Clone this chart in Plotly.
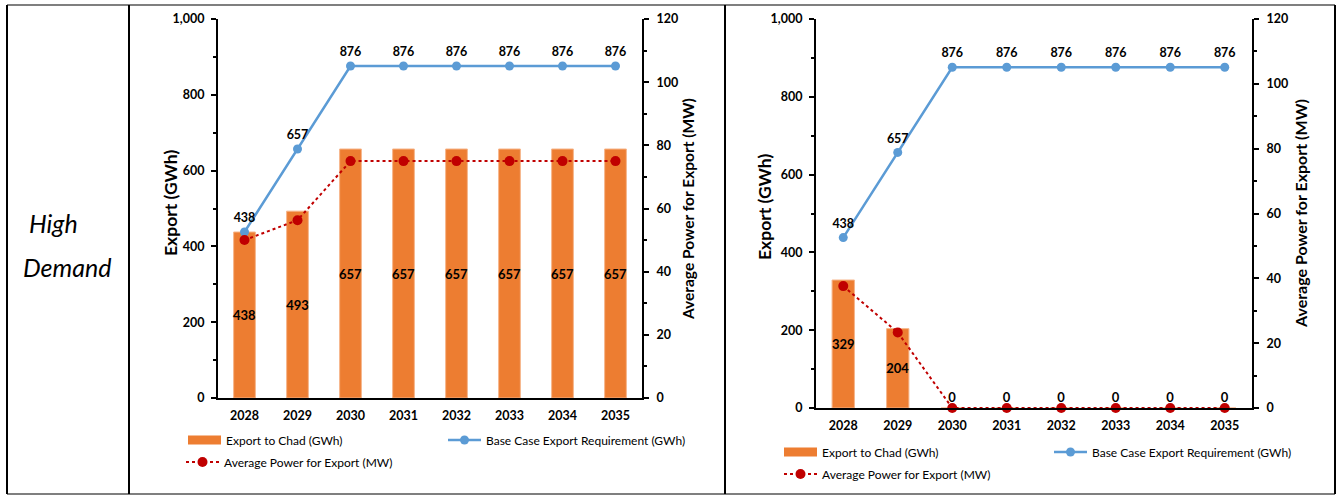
import plotly.graph_objects as go

# ---- data -------------------------------------------------------------
years = ["2028", "2029", "2030", "2031", "2032", "2033", "2034", "2035"]

left_export = [438, 493, 657, 657, 657, 657, 657, 657]
left_requirement = [438, 657, 876, 876, 876, 876, 876, 876]
left_power = [50.0, 56.3, 75.0, 75.0, 75.0, 75.0, 75.0, 75.0]

right_export = [329, 204, 0, 0, 0, 0, 0, 0]
right_requirement = [438, 657, 876, 876, 876, 876, 876, 876]
right_power = [37.6, 23.3, 0, 0, 0, 0, 0, 0]

row_label = ["High", "Demand"]
bar_name = "Export to Chad (GWh)"
req_name = "Base Case Export Requirement (GWh)"
power_name = "Average Power for Export (MW)"
left_title = "Export (GWh)"

# ---- styling ----------------------------------------------------------
W, H = 1341, 495
FONT = "Lato"
ORANGE = "#ED7D31"
ORANGE_EDGE = "#F6B58A"
BLUE = "#5B9BD5"
RED = "#C00000"


def px(x):
    return x / W


def py(y):
    return 1 - y / H


panels = [
    dict(export=left_export, req=left_requirement, power=left_power,
         xa="x", yl="y", yr="y2", x0=218, x1=642, ytop=19, ybot=398,
         legends=("legend", "legend2", "legend3"),
         leg_pos=[(190, 440), (450, 440), (188, 462)],
         ltitle=(170, 203, 17.5), rtitle=(688, 209, 15.5)),
    dict(export=right_export, req=right_requirement, power=right_power,
         xa="x2", yl="y3", yr="y4", x0=816, x1=1252, ytop=19, ybot=408,
         legends=("legend4", "legend5", "legend6"),
         leg_pos=[(786, 452), (1056, 452), (786, 474)],
         ltitle=(764, 207, 17.5), rtitle=(1300, 214, 16)),
]

fig = go.Figure()
layout = dict(
    width=W, height=H, margin=dict(l=0, r=0, t=0, b=0, autoexpand=False),
    paper_bgcolor="white", plot_bgcolor="rgba(0,0,0,0)",
    font=dict(family=FONT, color="black"),
    barmode="overlay", showlegend=True,
)
annotations = []
shapes = []

for p in panels:
    # bars: value label centred inside, zero bars get their label above
    positions = ["inside" if v > 0 else "outside" for v in p["export"]]
    fig.add_trace(go.Bar(
        x=years, y=p["export"], xaxis=p["xa"], yaxis=p["yl"],
        width=0.41, marker=dict(color=ORANGE, line=dict(color=ORANGE_EDGE, width=1)),
        text=[str(v) for v in p["export"]], textposition=positions,
        insidetextanchor="middle", textangle=0, constraintext="none",
        textfont=dict(family=FONT, size=13, color="black", weight="bold"),
        cliponaxis=False, showlegend=False, hoverinfo="skip",
    ))
    # legend entry for the bars (wide orange swatch)
    fig.add_trace(go.Scatter(
        x=[None], y=[None], xaxis=p["xa"], yaxis=p["yl"], mode="lines",
        line=dict(color=ORANGE, width=9), name=bar_name,
        legend=p["legends"][0], hoverinfo="skip",
    ))
    # base case requirement line with labels above each point
    fig.add_trace(go.Scatter(
        x=years, y=p["req"], xaxis=p["xa"], yaxis=p["yl"],
        mode="lines+markers+text", text=[str(v) for v in p["req"]],
        textposition="top center",
        textfont=dict(family=FONT, size=12.5, color="black", weight="bold"),
        line=dict(color=BLUE, width=2.5), marker=dict(color=BLUE, size=9),
        name=req_name, legend=p["legends"][1], cliponaxis=False,
    ))
    # average power on the secondary axis
    fig.add_trace(go.Scatter(
        x=years, y=p["power"], xaxis=p["xa"], yaxis=p["yr"],
        mode="lines+markers",
        line=dict(color=RED, width=2, dash="dot"), marker=dict(color=RED, size=10),
        name=power_name, legend=p["legends"][2], cliponaxis=False,
    ))

    xname = "xaxis" if p["xa"] == "x" else "xaxis2"
    ylname = "yaxis" if p["yl"] == "y" else "yaxis3"
    yrname = "yaxis2" if p["yr"] == "y2" else "yaxis4"
    tickfont = dict(family=FONT, size=12.5, color="black", weight="bold")

    layout[xname] = dict(
        domain=[px(p["x0"]), px(p["x1"])], anchor=p["yl"], type="category",
        range=[-0.5, 7.5], showline=True, linecolor="black", linewidth=2,
        ticks="", tickfont=tickfont, ticklabelstandoff=5, automargin=False,
        showgrid=False, zeroline=False, fixedrange=True,
    )
    layout[ylname] = dict(
        domain=[py(p["ybot"]), py(p["ytop"])], anchor=p["xa"],
        range=[0, 1000], dtick=200, tickformat=",d",
        ticks="outside", ticklen=5, tickwidth=1.5, tickcolor="black",
        minor=dict(dtick=100, ticks="outside", ticklen=3, tickwidth=1.5,
                   tickcolor="black", showgrid=False),
        showline=True, linecolor="black", linewidth=2,
        tickfont=tickfont, ticklabelstandoff=4, automargin=False,
        showgrid=False, zeroline=False, fixedrange=True,
    )
    layout[yrname] = dict(
        overlaying=p["yl"], side="right", anchor=p["xa"],
        range=[0, 120], dtick=20,
        ticks="outside", ticklen=5, tickwidth=1.5, tickcolor="black",
        minor=dict(dtick=10, ticks="outside", ticklen=3, tickwidth=1.5,
                   tickcolor="black", showgrid=False),
        showline=True, linecolor="black", linewidth=2,
        tickfont=tickfont, ticklabelstandoff=5, automargin=False,
        showgrid=False, zeroline=False, fixedrange=True,
    )

    for name, (lx, ly) in zip(p["legends"], p["leg_pos"]):
        layout[name] = dict(
            x=px(lx - 7), y=py(ly), xanchor="left", yanchor="middle",
            orientation="h", bgcolor="rgba(0,0,0,0)", borderwidth=0,
            itemwidth=33, font=dict(family=FONT, size=12, color="black"),
        )

    tx, ty, ts = p["ltitle"]
    annotations.append(dict(
        x=px(tx), y=py(ty), xref="paper", yref="paper", text=left_title,
        textangle=-90, showarrow=False, xanchor="center", yanchor="middle",
        font=dict(family=FONT, size=ts, color="black", weight="bold"),
    ))
    tx, ty, ts = p["rtitle"]
    annotations.append(dict(
        x=px(tx), y=py(ty), xref="paper", yref="paper", text=power_name,
        textangle=-90, showarrow=False, xanchor="center", yanchor="middle",
        font=dict(family=FONT, size=ts, color="black", weight="bold"),
    ))

# row label in the first table column
for word, (lx, ly) in zip(row_label, [(27, 223), (21, 267)]):
    annotations.append(dict(
        x=px(lx), y=py(ly), xref="paper", yref="paper", text=word,
        showarrow=False, xanchor="left", yanchor="middle",
        font=dict(family=FONT, size=25, color="black", style="italic"),
    ))

# table borders
def hline(y, x0, x1, w):
    return dict(type="line", xref="paper", yref="paper", x0=px(x0), x1=px(x1),
                y0=py(y), y1=py(y), line=dict(color="black", width=w), layer="above")


def vline(x, y0, y1, w):
    return dict(type="line", xref="paper", yref="paper", x0=px(x), x1=px(x),
                y0=py(y0), y1=py(y1), line=dict(color="black", width=w), layer="above")


shapes += [
    hline(5, 7, 1335, 1.2), hline(494, 7, 1335, 1.2),
    vline(7, 5, 494, 2), vline(129, 5, 494, 2),
    vline(725, 5, 494, 2), vline(1335, 5, 494, 2),
]

layout["annotations"] = annotations
layout["shapes"] = shapes
fig.update_layout(**layout)

fig.write_html("out.html")
